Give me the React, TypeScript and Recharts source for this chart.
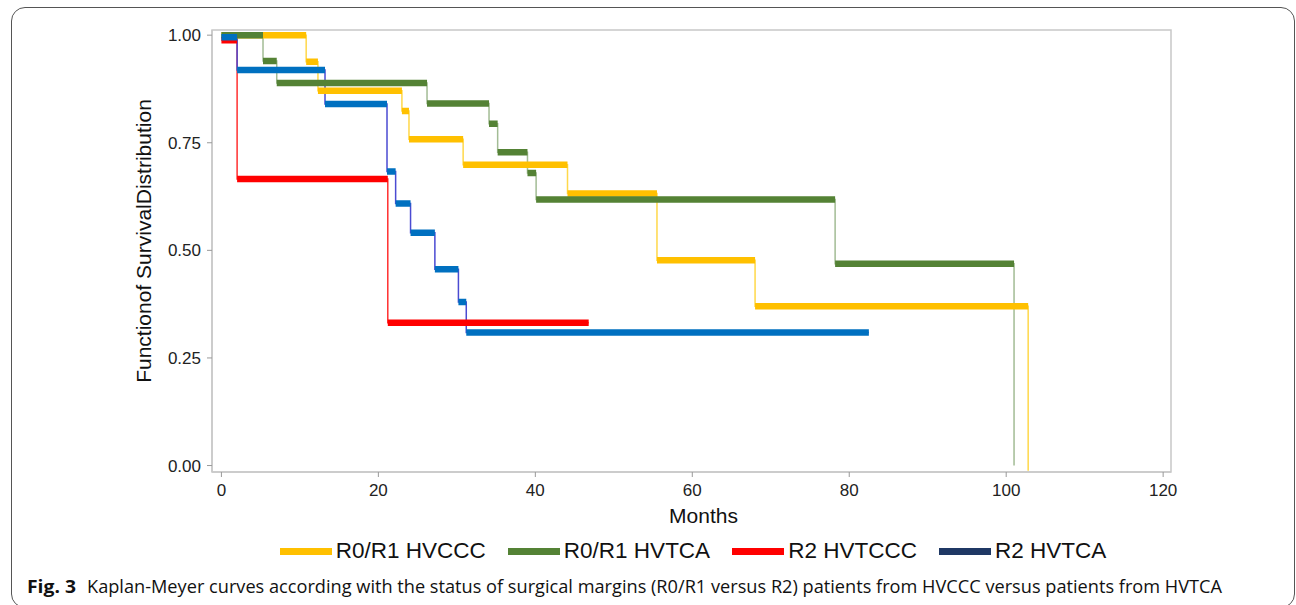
import { LineChart, Line, XAxis, YAxis, Legend, ReferenceArea } from "recharts";

// Kaplan-Meier steps (months, survival)
const yellowTime = [0, 10.8, 12.3, 23.0, 23.9, 30.8, 44.1, 55.5, 68.0, 102.8, 102.8];
const yellowSurv = [1.0, 0.938, 0.871, 0.824, 0.758, 0.699, 0.632, 0.477, 0.37, 0.37, -0.012];

const greenTime = [0, 5.3, 7.05, 26.2, 34.1, 35.2, 39.0, 40.1, 78.2, 101.0, 101.0];
const greenSurv = [1.0, 0.94, 0.889, 0.841, 0.794, 0.728, 0.68, 0.618, 0.469, 0.469, 0.0];

const redTime = [0, 2.0, 21.2, 46.8];
const redSurv = [0.988, 0.666, 0.332, 0.332];

const blueTime = [0, 2.0, 13.2, 21.1, 22.2, 24.1, 27.2, 30.2, 31.2, 82.5];
const blueSurv = [0.995, 0.919, 0.84, 0.683, 0.609, 0.541, 0.456, 0.38, 0.309, 0.309];

const seriesNames = ["R0/R1 HVCCC", "R0/R1 HVTCA", "R2 HVTCCC", "R2 HVTCA"];
const bandColors = ["#FFC000", "#548235", "#FF0000", "#0070C0"];
const stepColors = ["#FFD84A", "#A3BC95", "#FF3030", "#4B4BD2"];
const legendColors = ["#FFC000", "#548235", "#FF0000", "#1F3864"];

const xTicks = [0, 20, 40, 60, 80, 100, 120];
const yTicks = [0, 0.25, 0.5, 0.75, 1.0];

const toRows = (t: number[], s: number[]) => t.map((v, i) => ({ t: v, s: s[i] }));
const series = [
  toRows(yellowTime, yellowSurv),
  toRows(greenTime, greenSurv),
  toRows(redTime, redSurv),
  toRows(blueTime, blueSurv),
];

// curve that draws only the flat part of each step (the thick bands)
const curveFlat = (context: any) => {
  let started = false;
  let py = 0;
  return {
    areaStart() {},
    areaEnd() {},
    lineStart() {
      started = false;
    },
    lineEnd() {},
    point(x: number, y: number) {
      if (!started) {
        context.moveTo(x, y);
        started = true;
      } else {
        context.lineTo(x, py);
        context.moveTo(x, y);
      }
      py = y;
    },
  };
};

const FONT = '"Liberation Sans", Arial, sans-serif';
const xDomain = [-1.2, 121];
const yDomain = [-0.015, 1.012];

const LegendRow = () => (
  <div style={{ display: "flex", justifyContent: "center", alignItems: "center", gap: 22, paddingLeft: 90 }}>
    {seriesNames.map((n, i) => (
      <div key={n} style={{ display: "flex", alignItems: "center", gap: 4 }}>
        <span style={{ display: "inline-block", width: 52, height: 7, background: legendColors[i] }} />
        <span style={{ fontFamily: FONT, fontSize: 22.5, color: "#111" }}>{n}</span>
      </div>
    ))}
  </div>
);

export default function App() {
  return (
    <div style={{ position: "absolute", left: 0, top: 0, width: 1296, height: 605, background: "#fff", overflow: "hidden" }}>
      <div
        style={{
          position: "absolute",
          left: 11,
          top: 7,
          width: 1284,
          height: 601,
          border: "1px solid #555",
          borderRadius: 14,
          boxSizing: "border-box",
        }}
      />
      <LineChart width={1296} height={605} margin={{ top: 30, right: 125, bottom: 83, left: 142 }} style={{ position: "absolute", left: 0, top: 0 }}>
        <XAxis
          dataKey="t"
          type="number"
          domain={xDomain}
          ticks={xTicks}
          allowDataOverflow
          height={50}
          tickSize={5}
          tickMargin={7}
          tick={{ fontSize: 17, fill: "#222", fontFamily: FONT }}
          tickLine={{ stroke: "#999" }}
          axisLine={{ stroke: "#c8c8c8", strokeWidth: 1.5 }}
          label={{
            content: (p: any) => (
              <text x={p.viewBox.x + p.viewBox.width / 2 + 12} y={p.viewBox.y + 51} textAnchor="middle" fontSize={21} fontFamily={FONT} fill="#111">
                Months
              </text>
            ),
          }}
        />
        <YAxis
          type="number"
          domain={yDomain}
          ticks={yTicks}
          allowDataOverflow
          width={70}
          tickSize={5}
          tickMargin={6}
          tickFormatter={(v: number) => v.toFixed(2)}
          tick={{ fontSize: 17, fill: "#222", fontFamily: FONT }}
          tickLine={{ stroke: "#999" }}
          axisLine={{ stroke: "#c8c8c8", strokeWidth: 1.5 }}
          label={{
            content: (p: any) => (
              <text
                transform={`translate(${p.viewBox.x + 1}, ${p.viewBox.y + p.viewBox.height / 2 - 10}) rotate(-90)`}
                textAnchor="middle"
                dominantBaseline="central"
                fontSize={21}
                fontFamily={FONT}
                fill="#111"
              >
                Functionof SurvivalDistribution
              </text>
            ),
          }}
        />
        <ReferenceArea x1={xDomain[0]} x2={xDomain[1]} y1={yDomain[0]} y2={yDomain[1]} fill="none" stroke="#c8c8c8" strokeWidth={1.5} ifOverflow="visible" />
        {series.map((d, i) => (
          <Line
            key={"step" + i}
            data={d}
            dataKey="s"
            type="stepAfter"
            stroke={stepColors[i]}
            strokeWidth={1.5}
            dot={false}
            activeDot={false}
            legendType="none"
            isAnimationActive={false}
          />
        ))}
        {series.map((d, i) => (
          <Line
            key={"band" + i}
            data={d}
            dataKey="s"
            name={seriesNames[i]}
            type={curveFlat as any}
            stroke={bandColors[i]}
            strokeWidth={6.5}
            strokeLinecap="butt"
            dot={false}
            activeDot={false}
            isAnimationActive={false}
          />
        ))}
        <Legend
          layout="horizontal"
          verticalAlign="middle"
          align="center"
          content={() => <LegendRow />}
          wrapperStyle={{ position: "absolute", top: 538, left: 0, width: 1296, height: 30 }}
        />
      </LineChart>
      <svg width={1296} height={605} style={{ position: "absolute", left: 0, top: 0, pointerEvents: "none" }}>
        <text x={27} y={593} fontFamily='"Open Sans", sans-serif' fontWeight={700} fontSize={17.5} fill="#111" textLength={49} lengthAdjust="spacingAndGlyphs">
          Fig. 3
        </text>
        <text x={87} y={593} fontFamily='"Open Sans", sans-serif' fontSize={17.5} fill="#111" textLength={1135} lengthAdjust="spacingAndGlyphs">
          Kaplan-Meyer curves according with the status of surgical margins (R0/R1 versus R2) patients from HVCCC versus patients from HVTCA
        </text>
      </svg>
    </div>
  );
}
